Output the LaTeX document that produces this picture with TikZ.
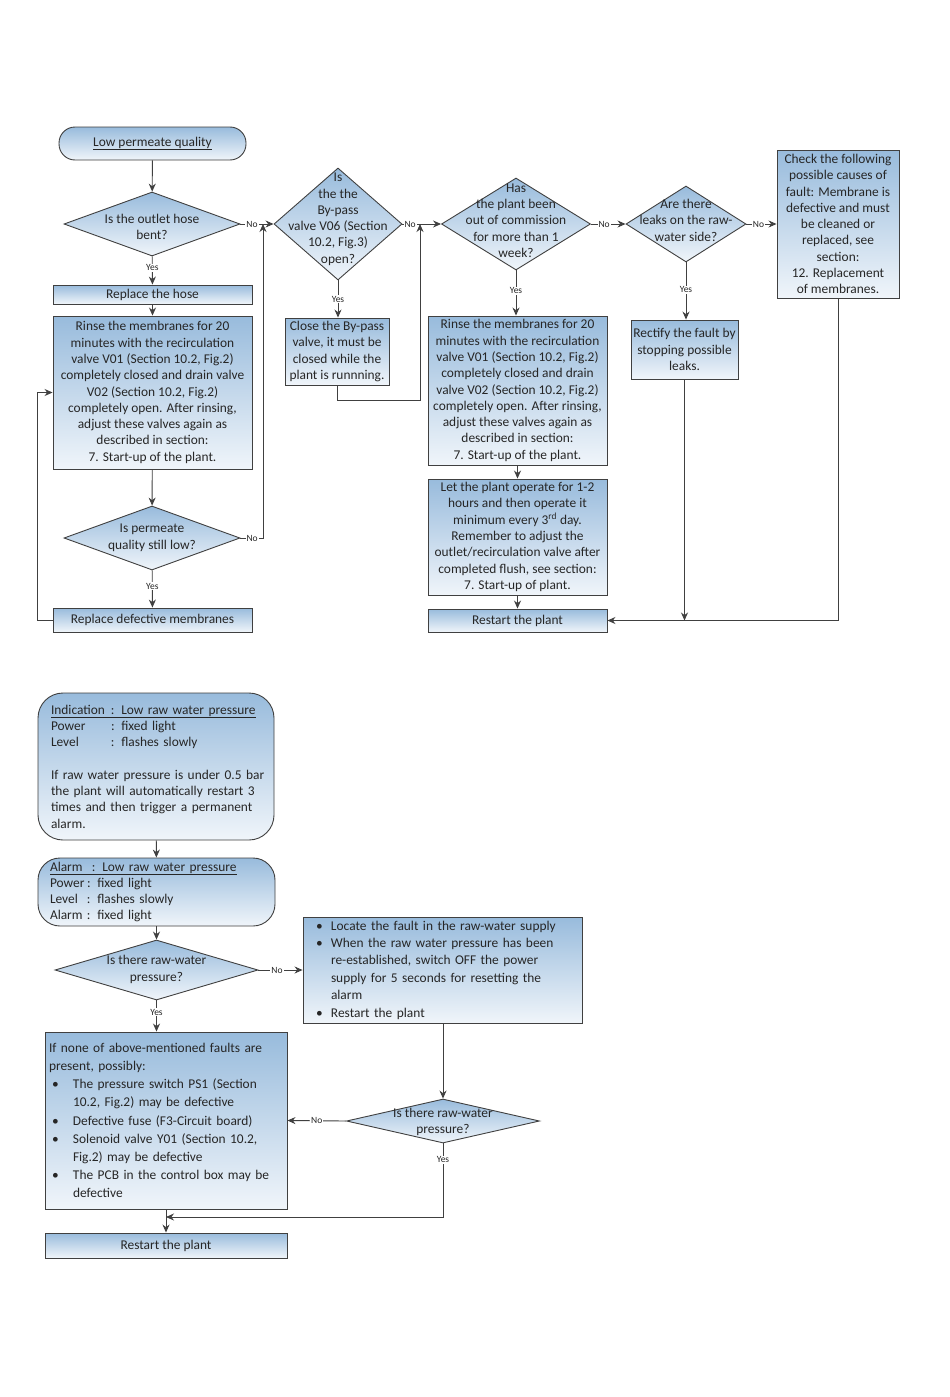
\documentclass[tikz,border=0pt]{standalone}
\usepackage{fontspec}
\setmainfont{Carlito}
\usetikzlibrary{shapes.geometric,arrows.meta}

\definecolor{lnc}{RGB}{64,64,64}
\definecolor{boxtop}{RGB}{152,187,220}
\definecolor{boxbot}{RGB}{240,245,250}
\newcommand{\boxfont}{\fontsize{13.4}{16.3}\selectfont}
\newcommand{\ynfont}{\fontsize{9.5}{11}\selectfont}
% text of a decision, kept out of the size of the diamond
\newcommand{\zbox}[2][0pt]{\makebox[0pt]{\smash{\raisebox{\dimexpr#1-3.3pt\relax}{\begin{tabular}{@{}c@{}}#2\end{tabular}}}}}
\newcommand{\bul}[1][3pt]{\makebox[24pt][l]{\hspace{#1}\textbullet}}
\newcommand{\bulskip}{\hspace*{24pt}}

\begin{document}
\begin{tikzpicture}[x=1pt,y=1pt,yscale=-1,xscale=1,
  base/.style={draw=lnc, line width=0.9pt, top color=boxtop, bottom color=boxbot, text=black!85, font=\boxfont},
  proc/.style 2 args={base, align=center, minimum width=#1, minimum height=#2, inner xsep=2pt, inner ysep=1pt},
  term/.style 2 args={proc={#1}{#2}, rounded corners=16pt},
  dec/.style 2 args={base, diamond, minimum width=#1, minimum height=#2, inner sep=0pt},
  note/.style 2 args={base, align=left, text width=#1, minimum height=#2, inner ysep=1pt},
  yn/.style={font=\ynfont, fill=white, inner sep=1pt, text=black!85},
  conn/.style={draw=lnc, line width=0.9pt, -{Stealth[length=8pt,width=7pt]}}]
\useasboundingbox [fill=white] (0,0) rectangle (950,1397);

%Shape: Terminal
\draw (152.5,143.5) node [term={187}{33}] (start) {\underline{Low permeate quality}};
%Shape: Diamond
\draw (152,224) node [dec={176}{64}] (d1) {\zbox[-4.5pt]{Is the outlet hose\\bent?}};
%Shape: Rectangle
\draw (152.5,294.5) node [proc={199}{19}] (hose) {Replace the hose};
%Shape: Rectangle
\draw (152.5,392.5) node [proc={199}{153}] (rinse1) {Rinse the membranes for 20\\minutes with the recirculation\\valve V01 (Section 10.2, Fig.2)\\completely closed and drain valve\\V02 (Section 10.2, Fig.2)\\completely open. After rinsing,\\adjust these valves again as\\described in section:\\7. Start-up of the plant.};
%Shape: Diamond
\draw (152,538) node [dec={176}{64}] (d2) {\zbox{Is permeate\\quality still low?}};
%Shape: Rectangle
\draw (152.5,620) node [proc={199}{24}] (repl) {Replace defective membranes};

%Shape: Diamond
\draw (338,224) node [dec={128}{112}] (d3) {\zbox[4.5pt]{Is\\the the\\By-pass\\valve V06 (Section\\10.2, Fig.3)\\open?}};
%Shape: Rectangle
\draw (337,351.5) node [proc={104}{67}] (close) {Close the By-pass\\valve, it must be\\closed while the\\plant is runnning.};

%Shape: Diamond
\draw (516,224) node [dec={149}{92}] (d4) {\zbox[2pt]{Has\\the plant been\\out of commission\\for more than 1\\week?}};
%Shape: Rectangle
\draw (517.5,390.5) node [proc={179}{149}] (rinse2) {Rinse the membranes for 20\\minutes with the recirculation\\valve V01 (Section 10.2, Fig.2)\\completely closed and drain\\valve V02 (Section 10.2, Fig.2)\\completely open. After rinsing,\\adjust these valves again as\\described in section:\\7. Start-up of the plant.};
%Shape: Rectangle
\draw (517.5,537) node [proc={179}{116}] (oper) {Let the plant operate for 1-2\\hours and then operate it\\minimum every 3\textsuperscript{rd} day.\\Remember to adjust the\\outlet/recirculation valve after\\completed flush, see section:\\7. Start-up of plant.};
%Shape: Rectangle
\draw (517.5,620.5) node [proc={179}{23}] (restart1) {Restart the plant};

%Shape: Diamond
\draw (686,224) node [dec={120}{76}] (d5) {\zbox[2pt]{Are there\\leaks on the raw-\\water side?}};
%Shape: Rectangle
\draw (684.5,349.5) node [proc={107}{59}] (rect) {Rectify the fault by\\stopping possible\\leaks.};
%Shape: Rectangle
\draw (838,224) node [proc={122}{148}, inner ysep=0pt] (check) {Check the following\\possible causes of\\fault: Membrane is\\defective and must\\be cleaned or\\replaced, see\\section:\\12. Replacement\\of membranes.};

\coordinate (j1) at (263,224);
\coordinate (j2) at (420,224);

%Straight Lines
\draw [conn] (start) -- (d1);
\draw [conn] (d1) -- node [yn,pos=0.41] {Yes} (hose);
\draw [conn] (hose) -- (rinse1);
\draw [conn] (rinse1) -- (d2);
\draw [conn] (d2) -- node [yn,pos=0.42] {Yes} (repl);
\draw [conn] (repl.west) -- ++(-15,0) |- (rinse1.west);
\draw [conn] (d1.east) -- node [yn,pos=0.35] {No} (d3.west);
\draw [conn] (d2.east) -| node [yn,pos=0.26] {No} (j1);
\draw [conn] (d3.south) -- node [yn,pos=0.5] {Yes} (d3.south |- close.north);
\draw [conn] (close.south) -- ++(0,15) -| (j2);
\draw [conn] (d3.east) -- node [yn,pos=0.2] {No} (d4.west);
\draw [conn] (d4.south) -- node [yn,pos=0.45] {Yes} (d4.south |- rinse2.north);
\draw [conn] (rinse2) -- (oper);
\draw [conn] (oper) -- (restart1);
\draw [conn] (d4.east) -- node [yn,pos=0.38] {No} (d5.west);
\draw [conn] (d5.south) -- node [yn,pos=0.48] {Yes} (d5.south |- rect.north);
\draw [conn] (d5.east) -- node [yn,pos=0.4] {No} (check.west);
\draw [conn] (rect.south) -- (rect.south |- restart1.east);
\draw [conn] (check.south) |- (restart1.east);

%Shape: Terminal
\draw (156,766.5) node [note={210}{147}, inner xsep=13pt, rounded corners=25pt] (ind) {\underline{\makebox[60pt][l]{Indication}: Low raw water pressure}\\\makebox[60pt][l]{Power}: fixed light\\\makebox[60pt][l]{Level}: flashes slowly\\[16.3pt]\makebox[0pt][l]{If raw water pressure is under 0.5 bar}\\the plant will automatically restart 3\\times and then trigger a permanent\\alarm.};
%Shape: Terminal
\draw (156.5,892) node [note={213}{68}, inner xsep=12pt, rounded corners=22pt] (alarm) {\underline{\makebox[42pt][l]{Alarm}: Low raw water pressure}\\\makebox[37pt][l]{Power}: fixed light\\\makebox[37pt][l]{Level}: flashes slowly\\\makebox[37pt][l]{Alarm}: fixed light};
%Shape: Diamond
\draw (156.5,970) node [dec={203}{60}] (d6) {\zbox{Is there raw-water\\pressure?}};
%Shape: Rectangle
\draw (442.5,970) node [note={271}{106}, inner xsep=4pt, font=\fontsize{13.4}{17.4}\selectfont] (locate) {\bul[9pt]Locate the fault in the raw-water supply\\\bul[9pt]When the raw water pressure has been\\\bulskip re-established, switch OFF the power\\\bulskip supply for 5 seconds for resetting the\\\bulskip alarm\\\bul[9pt]Restart the plant};
%Shape: Diamond
\draw (443,1121) node [dec={193}{44}] (d7) {\zbox[-1.5pt]{Is there raw-water\\pressure?}};
%Shape: Rectangle
\draw (166,1120.5) node [note={234}{177}, inner xsep=4pt, font=\fontsize{13.4}{18.2}\selectfont] (none) {If none of above-mentioned faults are\\present, possibly:\\\bul The pressure switch PS1 (Section\\\bulskip 10.2, Fig.2) may be defective\\\bul Defective fuse (F3-Circuit board)\\\bul Solenoid valve Y01 (Section 10.2,\\\bulskip Fig.2) may be defective\\\bul The PCB in the control box may be\\\bulskip defective};
%Shape: Rectangle
\draw (166,1245.5) node [proc={242}{25}] (restart2) {Restart the plant};

\coordinate (j3) at (166,1217);

%Straight Lines
\draw [conn] (ind) -- (alarm);
\draw [conn] (alarm.south -| d6.north) -- (d6.north);
\draw [conn] (d6.east) -- node [yn,pos=0.42] {No} (locate.west);
\draw [conn] (d6.south) -- node [yn,pos=0.38] {Yes} (d6.south |- none.north);
\draw [conn] (locate.south -| d7.north) -- (d7.north);
\draw [conn] (d7.west) -- node [yn,pos=0.5] {No} (none.east);
\draw [conn] (d7.south) |- node [yn,pos=0.11] {Yes} (j3);
\draw [conn] (none) -- (restart2);

\end{tikzpicture}
\end{document}
